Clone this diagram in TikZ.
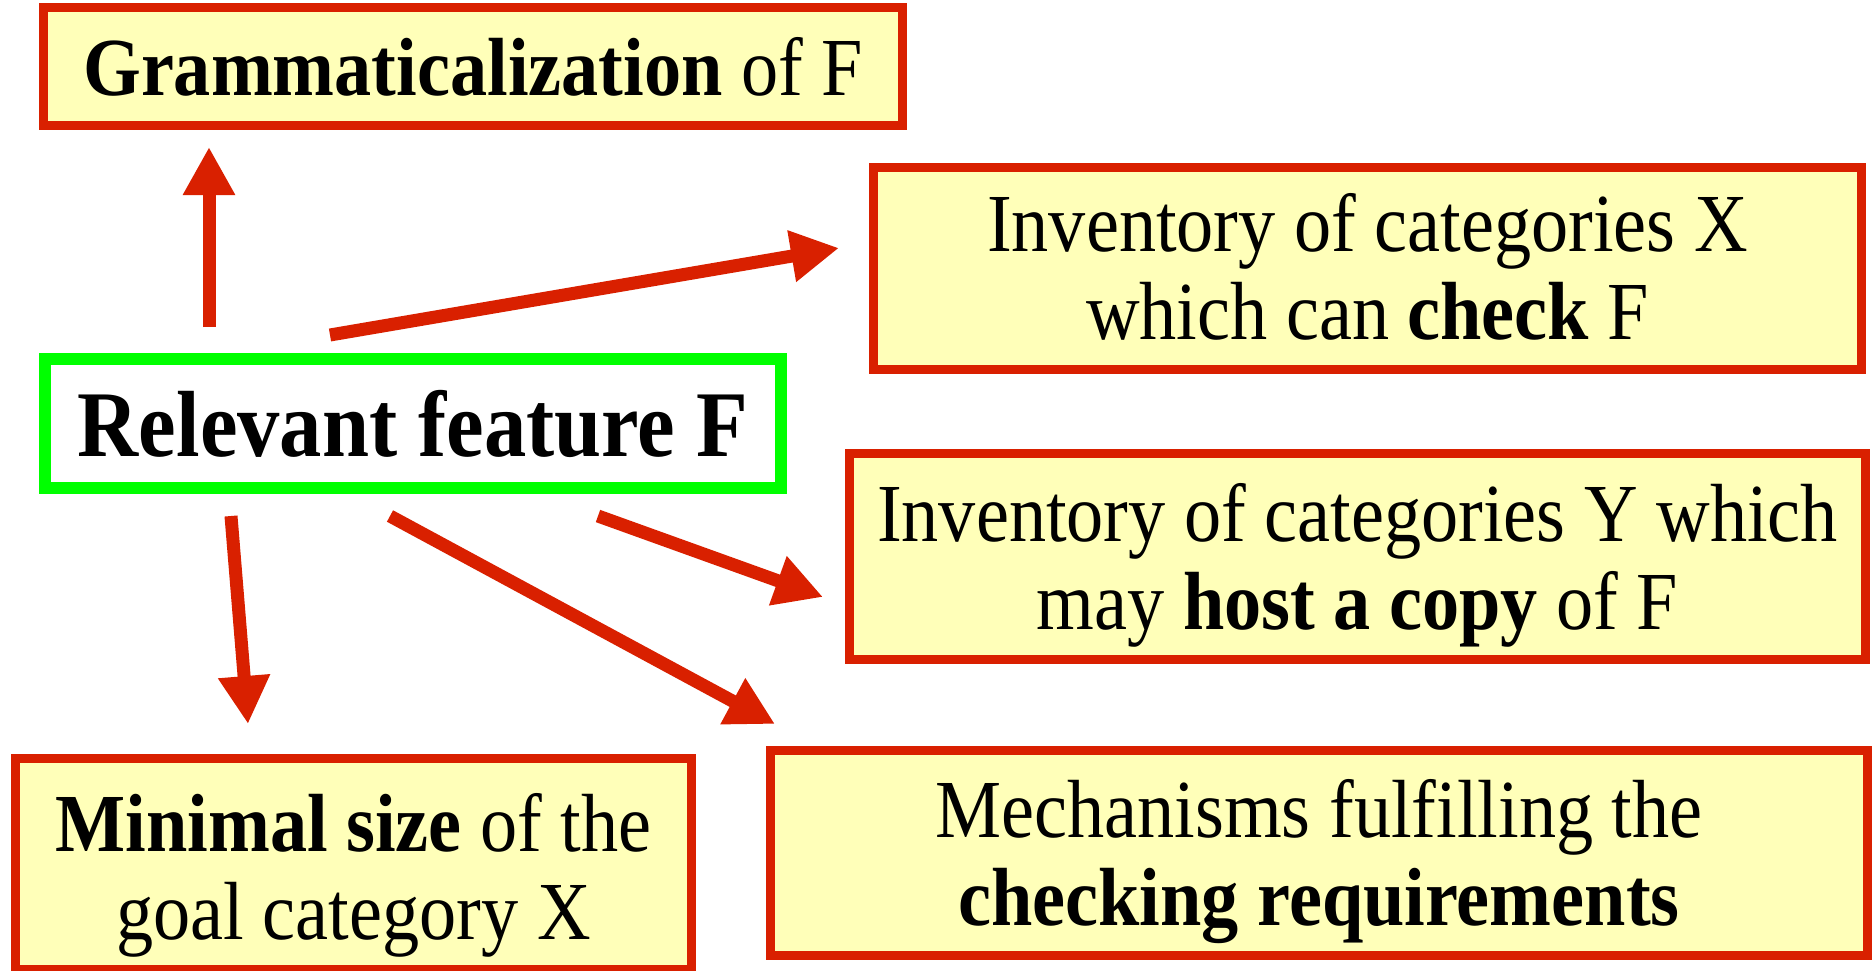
\documentclass[tikz,border=0pt]{standalone}
\usepackage{fontspec}
\setmainfont[FakeStretch=0.9]{Liberation Serif}
\usetikzlibrary{arrows.meta}
\definecolor{bred}{RGB}{217,32,0}
\definecolor{bgreen}{RGB}{0,255,0}
\definecolor{pale}{RGB}{255,255,185}
\newcommand{\topst}[1]{\rule{0pt}{#1}}
\newcommand{\botst}{\rule[-30pt]{0pt}{30pt}}
\begin{document}
\begin{tikzpicture}[x=1pt,y=-1pt,
  box/.style={draw=bred, line width=9pt, fill=pale, rectangle, inner sep=0pt, align=center,
    font=\fontsize{82.5}{88}\selectfont},
  mainbox/.style={draw=bgreen, line width=12pt, fill=white, rectangle, inner sep=0pt, align=center,
    font=\fontsize{94}{100}\selectfont\bfseries},
  arr/.style={draw=bred, line width=13pt, -{Triangle[length=48pt,width=49pt]}},
]
\useasboundingbox[fill=white] (0,0) rectangle (1876,970);

\node[box, minimum width=859pt, minimum height=112pt] (gram) at (473,66.5) {\topst{88pt}\textbf{Grammaticalization} of F\botst};
\node[box, minimum width=988pt, minimum height=199pt] (invx) at (1367.5,268) {\topst{84pt}Inventory of categories X\\which can \textbf{check} F\botst};
\node[box, minimum width=1016pt, minimum height=199pt] (invy) at (1357.5,556) {\topst{88pt}Inventory of categories Y which\\may \textbf{host a copy} of F\botst};
\node[box, minimum width=676pt, minimum height=197pt] (mini) at (353.5,864) {\topst{93pt}\textbf{Minimal size} of the\\goal category X\botst};
\node[box, minimum width=1097pt, minimum height=199pt] (mech) at (1319,853) {\topst{87pt}Mechanisms fulfilling the\\\textbf{checking requirements}\botst};
\node[mainbox, minimum width=736pt, minimum height=129pt] (feat) at (413,423.5) {Relevant feature F};

\coordinate (s1) at (209,327);  \coordinate (e1) at (209,147);
\coordinate (s2) at (330,335);  \coordinate (e2) at (839,248);
\coordinate (s3) at (598,516);  \coordinate (e3) at (823,597);
\coordinate (s4) at (390,516);  \coordinate (e4) at (775,724);
\coordinate (s5) at (231,516);  \coordinate (e5) at (248,724);

\draw[arr] (s1) -- (e1);
\draw[arr] (s2) -- (e2);
\draw[arr] (s3) -- (e3);
\draw[arr] (s4) -- (e4);
\draw[arr] (s5) -- (e5);
\end{tikzpicture}
\end{document}
